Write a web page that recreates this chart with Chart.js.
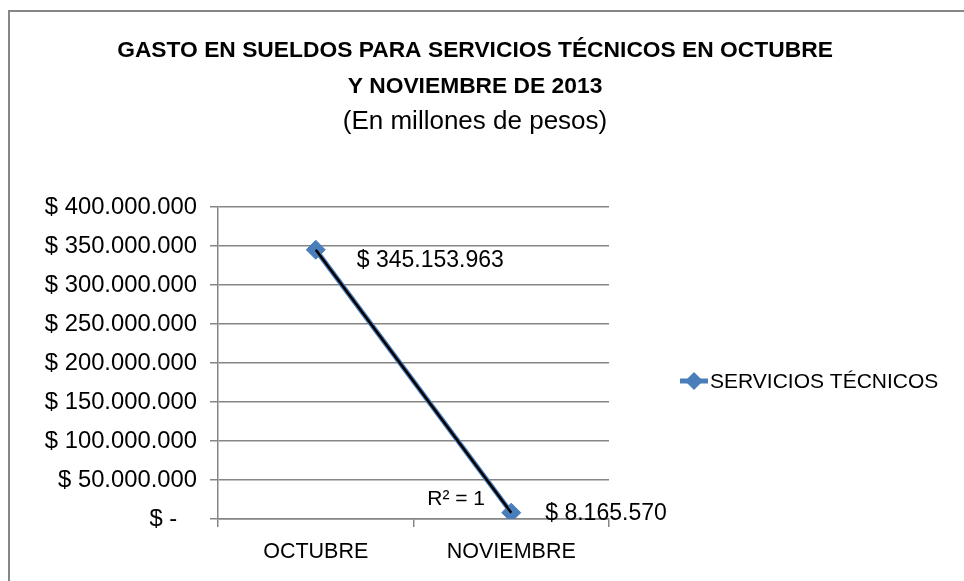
<!DOCTYPE html>
<html>
<head>
<meta charset="utf-8">
<script src="https://cdn.jsdelivr.net/npm/chart.js@4"></script>
<style>
  html, body { margin: 0; padding: 0; background: #fff; }
  canvas { display: block; }
</style>
</head>
<body>
<canvas id="chart" width="964" height="581"></canvas>
<script>
// ── Data ──
const categories = ['OCTUBRE', 'NOVIEMBRE'];
const gastoValues = [345153963, 8165570];
const yTickValues = [0, 50000000, 100000000, 150000000, 200000000, 250000000, 300000000, 350000000, 400000000];
const seriesLabel = 'SERVICIOS TÉCNICOS';
const titleLines = ['GASTO EN SUELDOS PARA SERVICIOS TÉCNICOS EN OCTUBRE', 'Y NOVIEMBRE DE 2013'];
const subtitleText = '(En millones de pesos)';
const trendLabel = 'R² = 1';

// ── Style ──
const BLUE = '#4a7ebb';
const GRID = '#868686';
const TEXT = '#000';
const FONT = "'Liberation Sans', Arial, sans-serif";
const labelOffsets = [[41, 11], [34, 1]];

function fmtPeso(v) {
  if (v === 0) return '$ -   ';
  return '$ ' + String(v).replace(/\B(?=(\d{3})+(?!\d))/g, '.');
}

function drawDiamond(ctx, x, y, r) {
  ctx.beginPath();
  ctx.moveTo(x, y - r);
  ctx.lineTo(x + r, y);
  ctx.lineTo(x, y + r);
  ctx.lineTo(x - r, y);
  ctx.closePath();
  ctx.fill();
}

// frame, titles, legend and labels
const decor = {
  id: 'decor',
  beforeDraw(chart) {
    const ctx = chart.ctx;
    ctx.save();
    ctx.strokeStyle = GRID;
    ctx.lineWidth = 2;
    ctx.strokeRect(9, 11, 2000, 2000);
    ctx.restore();
  },
  afterDraw(chart) {
    const ctx = chart.ctx;
    ctx.save();
    ctx.fillStyle = TEXT;
    ctx.textAlign = 'center';
    ctx.textBaseline = 'middle';
    ctx.font = 'bold 22.8px ' + FONT;
    ctx.fillText(titleLines[0], 475, 51);
    ctx.fillText(titleLines[1], 475, 87);
    ctx.font = '26px ' + FONT;
    ctx.fillText(subtitleText, 475, 122);

    // data labels
    const meta = chart.getDatasetMeta(1);
    ctx.textAlign = 'left';
    ctx.font = '23px ' + FONT;
    meta.data.forEach((pt, i) => {
      ctx.fillText(fmtPeso(gastoValues[i]), pt.x + labelOffsets[i][0], pt.y + labelOffsets[i][1]);
    });
    const last = meta.data[meta.data.length - 1];
    ctx.font = '21px ' + FONT;
    ctx.fillText(trendLabel, last.x - 84, last.y - 13);

    // legend
    const ly = 381;
    ctx.strokeStyle = BLUE;
    ctx.lineWidth = 5;
    ctx.beginPath();
    ctx.moveTo(680, ly);
    ctx.lineTo(708, ly);
    ctx.stroke();
    ctx.fillStyle = BLUE;
    drawDiamond(ctx, 694, ly, 9);
    ctx.fillStyle = TEXT;
    ctx.font = '21px ' + FONT;
    ctx.fillText(seriesLabel, 710, ly + 1);
    ctx.restore();
  }
};

new Chart(document.getElementById('chart'), {
  type: 'line',
  data: {
    labels: categories,
    datasets: [
      {
        label: 'Lineal (' + seriesLabel + ')',
        data: gastoValues,
        borderColor: '#000',
        borderWidth: 2.5,
        pointRadius: 0,
        order: 0
      },
      {
        label: seriesLabel,
        data: gastoValues,
        borderColor: BLUE,
        backgroundColor: BLUE,
        borderWidth: 5,
        pointStyle: 'rectRot',
        pointRadius: 9.5,
        pointBorderWidth: 1,
        pointBorderColor: BLUE,
        order: 1
      }
    ]
  },
  options: {
    responsive: false,
    animation: false,
    layout: { padding: { top: 207, left: 0, right: 355, bottom: 0 } },
    plugins: { legend: { display: false }, tooltip: { enabled: false } },
    scales: {
      x: {
        offset: true,
        grid: { offset: true, drawOnChartArea: false, color: GRID, lineWidth: 1.5, tickLength: 8 },
        border: { display: true, color: GRID, width: 1.5 },
        ticks: { color: TEXT, font: { family: FONT, size: 21.5 }, padding: 12, maxRotation: 0 },
        afterFit(scale) { scale.height = 62; }
      },
      y: {
        min: 0,
        max: 400000000,
        afterBuildTicks(scale) { scale.ticks = yTickValues.map(v => ({ value: v })); },
        grid: { color: GRID, lineWidth: 1.5, tickLength: 8 },
        border: { display: true, color: GRID, width: 1.5 },
        ticks: { color: TEXT, font: { family: FONT, size: 23.8 }, padding: 13, callback: v => fmtPeso(v) },
        afterFit(scale) { scale.width = 218; }
      }
    }
  },
  plugins: [decor]
});
</script>
</body>
</html>
